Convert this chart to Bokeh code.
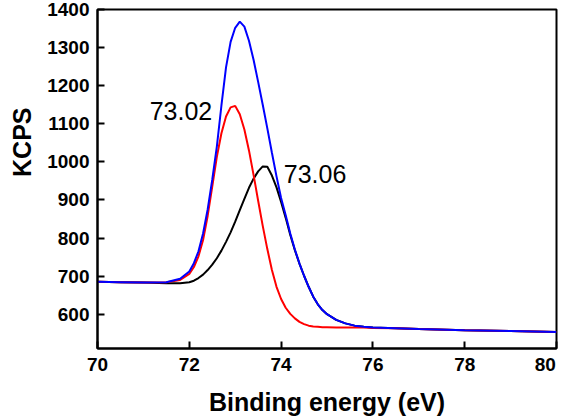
import numpy as np
from bokeh.plotting import figure
from bokeh.models import FixedTicker, Range1d, Title
from bokeh.core.properties import value
from bokeh.embed import file_html
from bokeh.resources import INLINE

# ---- data ----
energy = [70.0, 70.5, 71.0, 71.5, 71.8,
          72.0, 72.1, 72.2, 72.3, 72.4, 72.5, 72.6, 72.7, 72.8, 72.9,
          73.0, 73.1, 73.2, 73.3, 73.4, 73.5, 73.6, 73.7, 73.8, 73.9,
          74.0, 74.1, 74.2, 74.3, 74.4, 74.5, 74.6, 74.7, 74.8, 74.9,
          75.0, 75.2, 75.4, 75.6, 75.8, 76.0, 76.5, 77.0, 78.0, 79.0, 80.0]

envelope = [685, 684, 683, 684, 693,
            712, 734, 765, 812, 875, 953, 1040, 1148, 1248, 1315,
            1352, 1368, 1355, 1318, 1268, 1210, 1150, 1088, 1024, 962,
            905, 860, 812, 770, 733, 701, 672, 646, 626, 611,
            600, 585, 576, 570, 567, 565, 563, 561, 558, 556, 553]

peak_a = [685, 684, 683, 684, 690,
          706, 724, 752, 795, 858, 935, 1013, 1075, 1119, 1143,
          1147, 1125, 1085, 1030, 966, 898, 832, 771, 716, 672,
          640, 617, 601, 589, 580, 574, 570, 568, 567, 566,
          566, 565, 565, 565, 565, 564, 563, 561, 558, 556, 553]

peak_b = [685, 684, 683, 681, 681,
          684, 688, 695, 704, 716, 730, 747, 767, 790, 815,
          843, 873, 903, 932, 956, 975, 988, 987, 964, 933,
          895, 853, 808, 768, 733, 701, 672, 646, 626, 611,
          600, 585, 576, 570, 567, 565, 563, 561, 558, 556, 553]

x_ticks = [70, 72, 74, 76, 78, 80]
y_ticks = [600, 700, 800, 900, 1000, 1100, 1200, 1300, 1400]
peak_labels = ["73.02", "73.06"]
x_title = "Binding energy (eV)"
y_title = "KCPS"

FONT = "Liberation Sans"

p = figure(width=566, height=418, output_backend="svg", toolbar_location=None,
           x_range=Range1d(70, 80), y_range=Range1d(510, 1400),
           min_border_left=97, min_border_right=10, min_border_top=9,
           min_border_bottom=0)
p.background_fill_color = "white"
p.border_fill_color = "white"
p.outline_line_color = "black"
p.outline_line_width = 2
p.grid.visible = False

for ax in (p.xaxis[0], p.yaxis[0]):
    ax.axis_line_width = 2
    ax.axis_line_color = "black"
    ax.major_tick_line_width = 2
    ax.major_tick_line_color = "black"
    ax.major_tick_in = 7
    ax.major_tick_out = 0
    ax.minor_tick_line_color = None
    ax.major_label_text_font = FONT
    ax.major_label_text_font_style = "bold"
    ax.major_label_text_font_size = "19px"
    ax.major_label_text_color = "black"

p.xaxis.ticker = FixedTicker(ticks=x_ticks)
p.yaxis.ticker = FixedTicker(ticks=y_ticks)
p.xaxis.major_label_overrides = {80: "80\u00a0\u00a0"}
p.xaxis.major_label_standoff = 5
p.yaxis.major_label_standoff = 8

p.xaxis.axis_label = x_title
p.xaxis.axis_label_text_font = FONT
p.xaxis.axis_label_text_font_style = "bold"
p.xaxis.axis_label_text_font_size = "25px"
p.xaxis.axis_label_text_color = "black"
p.xaxis.axis_label_standoff = 10

p.line(energy, peak_b, line_color="black", line_width=2)
p.line(energy, peak_a, line_color="#ff0000", line_width=2)
p.line(energy, envelope, line_color="#0000ff", line_width=2)

ia = int(np.argmax(peak_a))
ib = int(np.argmax(peak_b))
p.text(x=[energy[ia]], y=[peak_a[ia]], text=[peak_labels[0]],
       x_offset=-23, y_offset=5, text_align="right", text_baseline="alphabetic",
       text_font=value(FONT), text_font_size="25px", text_color="black")
p.text(x=[energy[ib]], y=[peak_b[ib]], text=[peak_labels[1]],
       x_offset=21, y_offset=8, text_align="left", text_baseline="alphabetic",
       text_font=value(FONT), text_font_size="25px", text_color="black")

ytitle = Title(text=y_title, align="right", offset=98, vertical_align="top",
               standoff=14, text_font=FONT, text_font_style="bold",
               text_font_size="25px", text_color="black")
p.add_layout(ytitle, "left")

open("out.html", "w").write(file_html(p, INLINE))
